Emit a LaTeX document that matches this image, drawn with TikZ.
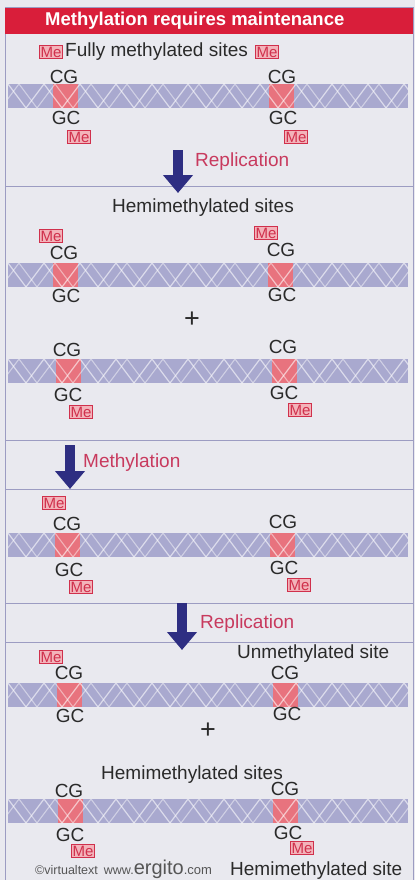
\documentclass[tikz,border=0pt]{standalone}
\usepackage{fontspec}
\setmainfont{Liberation Sans}
\usetikzlibrary{arrows.meta}

\definecolor{titlered}{HTML}{D91E3A}
\definecolor{paper}{HTML}{E9E9EF}
\definecolor{rule}{HTML}{9C9CC2}
\definecolor{helix}{HTML}{A9A9CF}
\definecolor{site}{HTML}{E8737E}
\definecolor{mered}{HTML}{D0304C}
\definecolor{mepink}{HTML}{F3B3BA}
\definecolor{labelred}{HTML}{C83A5E}
\definecolor{navy}{HTML}{2E2E82}
\definecolor{ink}{HTML}{2A2A2A}

\tikzset{
  base/.style={text=ink, font=\fontsize{19}{21}\selectfont, inner sep=0pt},
  plus/.style={text=ink, font=\fontsize{27}{27}\selectfont, inner sep=0pt},
  me/.style={draw=mered, fill=mepink, text=mered, font=\fontsize{15}{15}\selectfont,
    inner xsep=0.6pt, inner ysep=1.4pt, line width=1pt},
  steplabel/.style={text=labelred, font=\fontsize{19}{21}\selectfont, inner sep=0pt, anchor=west},
  bigarrow/.style={navy, line width=10pt, -{Triangle[length=18pt,width=29pt]}},
  panelrule/.style={rule, line width=1pt},
}

% one stretch of double helix with two CG sites: #1 = y, #2/#3 = site x
\newcommand\dnaband[3]{%
  \fill[helix] (8,#1-12) rectangle (408,#1+12);
  \fill[site] (#2-12.5,#1-12) rectangle (#2+12.5,#1+12);
  \fill[site] (#3-12.5,#1-12) rectangle (#3+12.5,#1+12);
  \begin{scope}
    \clip (8,#1-12) rectangle (408,#1+12);
    \foreach \k in {0,...,12}{
      \draw[white, opacity=0.6, line width=1.2pt]
        (-10+36*\k,#1+12) -- (8+36*\k,#1-12) -- (26+36*\k,#1+12);
      \draw[white, opacity=0.45, line width=1.1pt]
        (1+36*\k,#1+12) -- (19+36*\k,#1-12) -- (37+36*\k,#1+12);
    }
  \end{scope}
}

\begin{document}
\begin{tikzpicture}[x=1pt, y=-1pt]
\useasboundingbox (0,0) rectangle (415,880);
\fill[paper] (0,0) rectangle (415,880);

% frame and title bar
\draw[panelrule] (5,8) rectangle (413,890);
\fill[titlered] (5,8) rectangle (413,34);
\node[anchor=west, text=white, font=\bfseries\fontsize{18.5}{20}\selectfont, inner sep=0pt] (title) at (45,21) {Methylation requires maintenance};

% panel rules
\draw[panelrule] (5,186) -- (413,186);
\draw[panelrule] (5,440) -- (413,440);
\draw[panelrule] (5,489) -- (413,489);
\draw[panelrule] (5,603) -- (413,603);
\draw[panelrule] (5,642) -- (413,642);

% fully methylated
\node[me] (me1a) at (51,52) {Me};
\node[base, anchor=west] (fully) at (65,52) {Fully methylated sites};
\node[me] (me1b) at (267,52) {Me};
\node[base] (cg1a) at (64,77) {CG};
\node[base] (cg1b) at (282,77) {CG};
\dnaband{96}{65}{281}
\node[base] (gc1a) at (66,118) {GC};
\node[base] (gc1b) at (283,118) {GC};
\node[me] (me1c) at (79,137) {Me};
\node[me] (me1d) at (296,137) {Me};

% hemimethylated pair
\node[base] (hemi1) at (203,208) {Hemimethylated sites};
\node[me] (me2a) at (51,236) {Me};
\node[me] (me2b) at (266,233) {Me};
\node[base] (cg2a) at (64,253) {CG};
\node[base] (cg2b) at (281,250) {CG};
\dnaband{275}{65}{280}
\node[base] (gc2a) at (66,296) {GC};
\node[base] (gc2b) at (282,295) {GC};
\node[plus] (plus1) at (192,320) {+};
\node[base] (cg3a) at (67,350) {CG};
\node[base] (cg3b) at (283,347) {CG};
\dnaband{371}{68}{284}
\node[base] (gc3a) at (68,395) {GC};
\node[base] (gc3b) at (284,393) {GC};
\node[me] (me3a) at (81,412) {Me};
\node[me] (me3b) at (300,410) {Me};

% after methylation
\node[me] (me4a) at (54,503) {Me};
\node[base] (cg4a) at (67,524) {CG};
\node[base] (cg4b) at (283,522) {CG};
\dnaband{545}{67}{282}
\node[base] (gc4a) at (69,570) {GC};
\node[base] (gc4b) at (284,568) {GC};
\node[me] (me4b) at (81,587) {Me};
\node[me] (me4c) at (299,585) {Me};

% replication without methylation
\node[me] (me5a) at (51,657) {Me};
\node[base] (cg5a) at (69,673) {CG};
\node[base, anchor=west] (unmeth) at (237,654) {Unmethylated site};
\node[base] (cg5b) at (285,673) {CG};
\dnaband{695}{69}{285}
\node[base] (gc5a) at (70,716) {GC};
\node[base] (gc5b) at (287,714) {GC};
\node[plus] (plus2) at (208,731) {+};
\node[base] (hemi2) at (192,775) {Hemimethylated sites};
\node[base] (cg6a) at (69,791) {CG};
\node[base] (cg6b) at (285,789) {CG};
\dnaband{811}{70}{285}
\node[base] (gc6a) at (70,835) {GC};
\node[base] (gc6b) at (288,833) {GC};
\node[me] (me6a) at (83,851) {Me};
\node[me] (me6b) at (302,848) {Me};

% footer
\node[anchor=base west, text=ink!80, inner sep=0pt] (credit) at (35,874)
  {\fontsize{12.5}{12}\selectfont ©virtualtext\hspace{6pt}\fontsize{12.5}{12}\selectfont www.\fontsize{20}{20}\selectfont ergito\fontsize{13}{13}\selectfont .com};
\node[base, anchor=base west] (hemisite) at (230,875) {Hemimethylated site};

% step arrows
\coordinate (rep1a) at (178,150);
\coordinate (rep1b) at (178,193);
\draw[bigarrow] (rep1a) -- (rep1b);
\node[steplabel] (rep1) at (195,162) {Replication};

\coordinate (methA) at (70,445);
\coordinate (methB) at (70,489);
\draw[bigarrow] (methA) -- (methB);
\node[steplabel] (meth) at (83,463) {Methylation};

\coordinate (rep2a) at (182,603);
\coordinate (rep2b) at (182,650);
\draw[bigarrow] (rep2a) -- (rep2b);
\node[steplabel] (rep2) at (200,624) {Replication};
\end{tikzpicture}
\end{document}
